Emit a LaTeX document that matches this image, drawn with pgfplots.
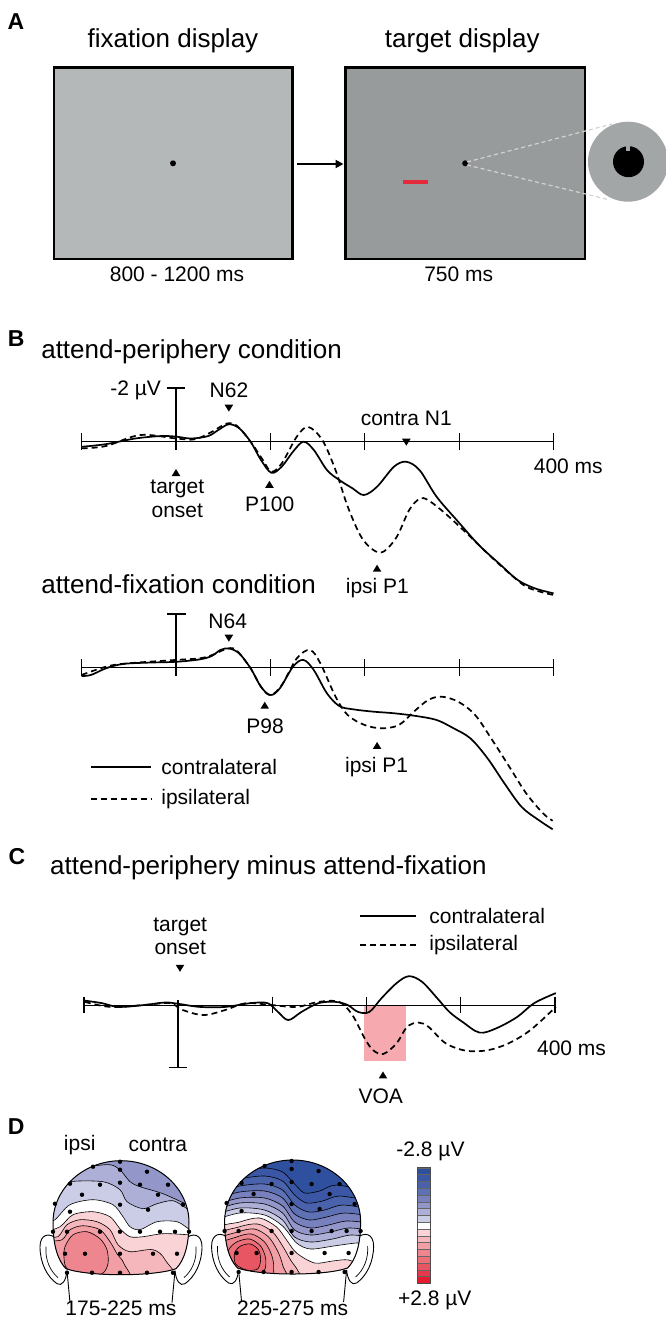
\documentclass[border=0pt]{standalone}
\usepackage{pgfplots}
\pgfplotsset{compat=1.18}
\usepackage{pgfplotstable}
\usepackage{fontspec}
\setmainfont{Liberation Sans}
\usetikzlibrary{arrows.meta}

\definecolor{boxA}{HTML}{B5B8B9}
\definecolor{boxB}{HTML}{989B9C}
\definecolor{eyeg}{HTML}{A3A6A7}
\definecolor{redbar}{HTML}{E42A3C}
\definecolor{voapink}{HTML}{F6AAB0}
\definecolor{cb1}{HTML}{2F4F9F}
\definecolor{cb2}{HTML}{3A56A4}
\definecolor{cb3}{HTML}{4A62AC}
\definecolor{cb4}{HTML}{5E71B4}
\definecolor{cb5}{HTML}{7880BD}
\definecolor{cb6}{HTML}{9296C9}
\definecolor{cb7}{HTML}{ADAFD6}
\definecolor{cb8}{HTML}{CBCCE5}
\definecolor{cw}{HTML}{FFFFFF}
\definecolor{cr8}{HTML}{F9D3D6}
\definecolor{cr7}{HTML}{F5B7BC}
\definecolor{cr6}{HTML}{F19EA5}
\definecolor{cr5}{HTML}{EE868F}
\definecolor{cr4}{HTML}{EB6E79}
\definecolor{cr3}{HTML}{E85563}
\definecolor{cr2}{HTML}{E6384A}
\definecolor{cr1}{HTML}{E41B2E}

\newcommand\ttl{\fontsize{26}{30}\selectfont}
\newcommand\lbl{\fontsize{21}{25}\selectfont}
\newcommand\pan{\fontsize{23}{26}\selectfont\bfseries}

\newcommand\tridown[2]{\fill (axis cs:#1,#2) -- ++(-4.3pt,7pt) -- ++(8.6pt,0pt) -- cycle;}
\newcommand\triup[2]{\fill (axis cs:#1,#2) -- ++(-4.3pt,-7pt) -- ++(8.6pt,0pt) -- cycle;}
\newcommand\erptick[1]{\draw[line width=1.3pt] (axis cs:#1,0) ++(0pt,8.3pt) -- ++(0pt,-16.6pt);}

\pgfplotstableread{
t v
-100 0.19
-74 0.09
-43 -0.12
-16 -0.21
0 -0.19
16 -0.12
34 -0.21
45 -0.44
56 -0.65
67 -0.50
79 0
90 0.68
101 1.16
112 0.93
124 0.37
135 0
146 0.31
160 1.06
173 1.43
187 1.74
199 1.99
213 1.68
231 0.93
244 0.75
258 1.06
276 2.05
299 2.99
321 3.86
344 4.60
362 5.16
380 5.47
400 5.66
}\bpc
\pgfplotstableread{
t v
-100 0.25
-74 0.16
-38 -0.25
0 -0.12
20 -0.09
38 -0.37
54 -0.68
65 -0.58
79 0
92 0.68
101 1.12
112 0.81
128 -0.19
140 -0.55
155 -0.06
169 1.06
182 2.43
196 3.54
209 4.04
220 4.10
234 3.54
247 2.55
258 2.13
267 2.18
285 2.67
308 3.42
330 4.17
353 4.91
371 5.41
389 5.63
400 5.72
}\bpi
\pgfplotstableread{
t v
-100 0.31
-90 0.27
-74 0.02
-56 -0.14
-29 -0.19
0 -0.22
25 -0.31
38 -0.44
47 -0.66
56 -0.72
67 -0.53
79 0.02
90 0.71
100 1.02
110 0.77
124 -0.04
135 -0.29
146 0.09
160 0.96
173 1.43
187 1.55
209 1.64
231 1.70
254 1.80
276 1.95
294 2.26
312 2.64
330 3.38
348 4.32
366 5.19
384 5.68
399 6.03
}\bfc
\pgfplotstableread{
t v
-100 0.27
-74 -0.04
-52 -0.16
0 -0.29
25 -0.35
38 -0.47
52 -0.68
63 -0.68
79 0.02
90 0.71
100 1.02
112 0.65
128 -0.35
142 -0.66
153 -0.16
169 1.08
182 1.77
200 2.14
218 2.26
236 2.14
252 1.64
267 1.21
281 1.08
299 1.27
317 1.77
335 2.70
353 3.69
371 4.69
389 5.44
399 5.71
}\bfi
\pgfplotstableread{
t v
-99 -0.07
-81 -0.03
-63 0.03
-36 0
-14 -0.04
0 -0.02
23 0.03
50 0.03
77 -0.03
95 -0.03
106 0.11
117 0.24
131 0.11
149 -0.03
167 -0.05
180 0
191 0.11
203 0.11
216 -0.11
232 -0.35
245 -0.46
259 -0.37
275 -0.11
288 0.11
302 0.27
320 0.44
338 0.37
360 0.19
378 -0.03
401 -0.19
}\cdc
\pgfplotstableread{
t v
-99 -0.05
-72 0.03
-36 0
-9 -0.03
5 0.08
27 0.16
50 0.08
72 -0.03
99 0
126 0.03
149 -0.05
171 -0.05
185 0.16
198 0.53
207 0.72
218 0.78
232 0.61
243 0.35
255 0.28
266 0.35
284 0.61
306 0.73
329 0.72
351 0.61
374 0.40
401 0.03
}\cdi

\pgfplotsset{erp/.style={hide axis, clip=false, scale only axis, enlargelimits=false, y dir=reverse, anchor=north west, xmin=-100, xmax=400}}
\tikzset{
  sol/.style={black, line width=1.7pt, smooth, tension=0.55},
  das/.style={black, line width=1.7pt, smooth, tension=0.55, dash pattern=on 6pt off 4pt},
}

\def\headpath{(0,-62) .. controls (0,-27.7) and (30.5,0) .. (68,0) .. controls (105.5,0) and (136,-27.7) .. (136,-62) .. controls (136,-85) and (131,-100) .. (123,-108) .. controls (100,-116) and (36,-116) .. (13,-108) .. controls (5,-100) and (0,-85) .. (0,-62) -- cycle}
\newcommand\ear{%
  \draw[fill=white, line width=0.9pt] (6,-80) .. controls (-4,-70) and (-13,-74) .. (-13,-86) .. controls (-13,-102) and (-6,-116) .. (4,-123) .. controls (9,-126) and (13,-120) .. (14,-110);
  \draw[line width=0.7pt] (-7,-86) .. controls (-8,-99) and (-3,-110) .. (5,-117);
  \draw[line width=0.9pt] (14,-110) -- (17,-142);}
\newcommand\band[2]{\fill[#1] (-10,-130) -- plot[smooth] coordinates {#2} -- (146,-130) -- cycle;
  \draw[line width=0.6pt] plot[smooth] coordinates {#2};}
\newcommand\loopband[2]{\fill[#1] plot[smooth cycle] coordinates {#2};
  \draw[line width=0.6pt] plot[smooth cycle] coordinates {#2};}
\newcommand\electrodes{\foreach \p in {(67,-1),(40,-6),(67,-9),(94,-11),(17,-23),(47,-24),(67,-22),(87,-24),(115,-24),(29,-34),(105,-34),(2,-43),(17,-51),(67,-44),(95,-49),(130,-44),(0,-71),(14,-71),(47,-71),(67,-71),(87,-71),(107,-71),(122,-71),(136,-71),(12,-93),(32,-93),(67,-93),(100,-93),(124,-93),(14,-112),(39,-112),(67,-112),(94,-112),(120,-112)}{\fill \p circle (2.2);}}

\begin{document}
\begin{tikzpicture}[x=1pt,y=1pt]
\useasboundingbox (0,0) rectangle (665,-1321);

% ---------------- Panel A
\node[font=\pan] at (16,-21.7) {A};
\node[font=\ttl] at (173,-40.7) {fixation display};
\node[font=\ttl] at (462.3,-40.7) {target display};
\draw[line width=2.5pt, fill=boxA] (53.9,-67.7) rectangle (292.6,-259);
\draw[line width=2.5pt, fill=boxB] (345.6,-67.7) rectangle (585.2,-259);
\fill (173,-163.3) circle (3);
\fill (465.2,-163.3) circle (3);
\draw[line width=2pt, -{Triangle[length=8pt,width=8pt]}] (296.9,-164) -- (343.5,-164);
\fill[redbar] (402.9,-179.7) rectangle (427.5,-183.7);
\draw[gray!35, line width=1.2pt, dash pattern=on 4pt off 3pt] (467,-162) -- (612,-124);
\draw[gray!35, line width=1.2pt, dash pattern=on 4pt off 3pt] (467,-165) -- (610,-200);
\fill[eyeg] (628,-161.7) circle (40);
\fill[black] (628.5,-161.7) circle (15.5);
\fill[eyeg] (626.2,-145) rectangle (629.8,-151);
\node[font=\lbl] at (177,-274) {800 - 1200 ms};
\node[font=\lbl] at (458.7,-274) {750 ms};

% ---------------- Panel B
\node[font=\pan] at (16.1,-338.3) {B};
\node[font=\ttl, anchor=west, inner sep=0] at (41.1,-351.7) {attend-periphery condition};
\begin{axis}[erp, at={(81.6pt,-374.7pt)}, width=472pt, height=241.2pt, ymin=-2.5, ymax=6.5]
  \draw[line width=1pt] (axis cs:-100,0) -- (axis cs:400,0);
  \erptick{-100}\erptick{100}\erptick{200}\erptick{300}\erptick{400}
  \draw[line width=1.3pt] (axis cs:0,-2) -- (axis cs:0,0) -- ++(0pt,-8.3pt);
  \draw[line width=1.3pt] (axis cs:0,-2) ++(-9.2pt,0pt) -- ++(18.4pt,0pt);
  \addplot[sol] table[x=t,y=v] {\bpc};
  \addplot[das] table[x=t,y=v] {\bpi};
  \tridown{56}{-1.12}
  \tridown{244}{0.15}
  \triup{0}{1.02}
  \triup{99}{1.46}
  \triup{213}{4.59}
\end{axis}
\node[font=\lbl, anchor=east, inner sep=0] at (161.2,-390) {-2 µV};
\node[font=\lbl] at (229,-390.7) {N62};
\node[font=\lbl] at (406.3,-418.3) {contra N1};
\node[font=\lbl] at (568.3,-466.7) {400 ms};
\node[font=\lbl] at (177.3,-489.3) {target};
\node[font=\lbl] at (177.3,-510.7) {onset};
\node[font=\lbl] at (269.7,-504) {P100};
\node[font=\lbl] at (377.4,-588.3) {ipsi P1};

\node[font=\ttl, anchor=west, inner sep=0] at (41.1,-584) {attend-fixation condition};
\begin{axis}[erp, at={(81.6pt,-600.7pt)}, width=472pt, height=241.2pt, ymin=-2.5, ymax=6.5]
  \draw[line width=1pt] (axis cs:-100,0) -- (axis cs:400,0);
  \erptick{-100}\erptick{100}\erptick{200}\erptick{300}\erptick{400}
  \draw[line width=1.3pt] (axis cs:0,-2) -- (axis cs:0,0) -- ++(0pt,-8.3pt);
  \draw[line width=1.3pt] (axis cs:0,-2) ++(-9.5pt,0pt) -- ++(19pt,0pt);
  \addplot[sol] table[x=t,y=v] {\bfc};
  \addplot[das] table[x=t,y=v] {\bfi};
  \tridown{56}{-0.97}
  \triup{94}{1.27}
  \triup{213}{2.77}
\end{axis}
\node[font=\lbl] at (227.7,-621.7) {N64};
\node[font=\lbl] at (265,-726) {P98};
\node[font=\lbl] at (376.6,-766.7) {ipsi P1};
\draw[line width=1.7pt] (91.2,-766.7) -- (151.4,-766.7);
\draw[line width=1.7pt, dash pattern=on 6pt off 4pt] (91.2,-799) -- (151.4,-799);
\node[font=\lbl, anchor=west, inner sep=0] at (161.2,-766.7) {contralateral};
\node[font=\lbl, anchor=west, inner sep=0] at (161.2,-799) {ipsilateral};

% ---------------- Panel C
\node[font=\pan] at (17,-856.7) {C};
\node[font=\ttl, anchor=west, inner sep=0] at (50,-867.3) {attend-periphery minus attend-fixation};
\begin{axis}[erp, at={(83.9pt,-942.33pt)}, width=471pt, height=137.9pt, ymin=-1, ymax=1.2]
  \fill[voapink] (axis cs:197,0) rectangle (axis cs:242,0.888);
  \draw[line width=1pt] (axis cs:-100,0) -- (axis cs:400,0);
  \erptick{-100}\erptick{100}\erptick{200}\erptick{300}\erptick{400}
  \draw[line width=1.3pt] (axis cs:0,0) ++(0pt,5pt) -- (axis cs:0,1);
  \draw[line width=1.3pt] (axis cs:0,1) ++(-9pt,0pt) -- ++(18pt,0pt);
  \addplot[sol] table[x=t,y=v] {\cdc};
  \addplot[das] table[x=t,y=v] {\cdi};
  \tridown{2}{-0.53}
  \triup{217.5}{1.06}
\end{axis}
\node[font=\lbl] at (180.2,-926.7) {target};
\node[font=\lbl] at (180.2,-948.3) {onset};
\node[font=\lbl] at (571.5,-1048.3) {400 ms};
\node[font=\lbl] at (380.8,-1096.7) {VOA};
\draw[line width=1.7pt] (359.6,-916) -- (415.6,-916);
\draw[line width=1.7pt, dash pattern=on 6pt off 4pt] (359.6,-945) -- (415.6,-945);
\node[font=\lbl, anchor=west, inner sep=0] at (429.2,-916) {contralateral};
\node[font=\lbl, anchor=west, inner sep=0] at (429.2,-945) {ipsilateral};

% ---------------- Panel D
\node[font=\pan] at (16.1,-1126.7) {D};
\node[font=\lbl] at (79.7,-1145) {ipsi};
\node[font=\lbl] at (157.8,-1145) {contra};

\begin{scope}[shift={(53,-1160.7)}]
  \ear
  \begin{scope}[shift={(136,0)}, xscale=-1] \ear \end{scope}
  \begin{scope}
    \clip \headpath;
    \fill[cb6] (-10,10) rectangle (146,-130);
    \band{cb7}{(-10,-2) (20,-2) (38,-5) (57,-4) (67,-9) (77,-21) (87,-26) (110,-33) (134,-44) (146,-52)}
    \band{cb8}{(-10,-32) (3,-29) (17,-21) (50,-21) (67,-29) (74,-41) (90,-48) (104,-43) (120,-40) (134,-48) (146,-56)}
    \band{cw}{(-10,-64) (2,-59) (17,-44) (40,-39) (60,-44) (70,-56) (77,-66) (87,-69) (104,-61) (124,-61) (137,-69) (146,-72)}
    \band{cr8}{(-10,-72) (7,-66) (20,-54) (40,-51) (57,-56) (67,-68) (77,-76) (90,-76) (110,-73) (134,-74) (146,-76)}
    \loopband{cr7}{(-10,-80) (5,-76) (14,-64) (27,-59) (44,-61) (57,-69) (65,-84) (77,-91) (100,-89) (112,-99) (118,-125) (-10,-125)}
    \loopband{cr6}{(-10,-85) (9,-79) (17,-69) (30,-65) (47,-69) (57,-81) (64,-93) (71,-103) (75,-125) (-10,-125)}
    \loopband{cr5}{(12,-86) (20,-74) (34,-71) (47,-78) (54,-89) (55,-103) (49,-113) (30,-116) (14,-108) (11,-97)}
  \end{scope}
  \draw[line width=1pt] \headpath;
  \electrodes
\end{scope}

\begin{scope}[shift={(224.6,-1160)}]
  \ear
  \begin{scope}[shift={(136,0)}, xscale=-1] \ear \end{scope}
  \begin{scope}
    \clip \headpath;
    \fill[cb1] (-10,10) rectangle (146,-130);
    \band{cb2}{(-10,-20) (15,-12) (40,-8) (58,-12) (70,-24) (80,-33) (95,-31) (112,-25) (146,-32)}
    \band{cb3}{(-10,-27) (15,-19) (40,-16) (58,-21) (70,-35) (82,-43) (98,-41) (115,-36) (146,-41)}
    \band{cb4}{(-10,-33) (15,-26) (40,-24) (58,-30) (70,-45) (84,-52) (100,-50) (118,-45) (146,-49)}
    \band{cb5}{(-10,-39) (15,-32) (40,-31) (58,-38) (70,-54) (85,-60) (102,-57) (120,-53) (146,-56)}
    \band{cb6}{(-10,-45) (15,-38) (40,-38) (58,-46) (70,-62) (86,-68) (104,-65) (122,-61) (146,-63)}
    \band{cb7}{(-10,-50) (15,-43) (40,-44) (58,-53) (70,-70) (86,-75) (106,-72) (124,-68) (146,-70)}
    \band{cb8}{(-10,-55) (15,-48) (40,-50) (58,-60) (70,-77) (86,-82) (108,-79) (126,-75) (146,-77)}
    \band{cw}{(-10,-60) (15,-53) (40,-55) (58,-66) (72,-83) (86,-89) (109,-86) (132,-83) (146,-84)}
    \loopband{cr8}{(-10,-72) (15,-62) (35,-58) (52,-67) (62,-80) (72,-93) (90,-103) (108,-101) (124,-100) (140,-108) (150,-125) (-10,-125)}
    \loopband{cr7}{(-10,-78) (14,-67) (33,-64) (48,-72) (58,-86) (66,-100) (74,-112) (76,-125) (-10,-125)}
    \loopband{cr6}{(-10,-83) (13,-72) (30,-69) (44,-77) (53,-91) (58,-105) (60,-125) (-10,-125)}
    \loopband{cr5}{(-10,-88) (12,-77) (27,-74) (40,-82) (47,-95) (49,-108) (44,-125) (-10,-125)}
    \loopband{cr4}{(4,-90) (12,-82) (25,-79) (36,-86) (41,-98) (40,-110) (30,-116) (12,-113) (4,-102)}
    \loopband{cr3}{(10,-93) (16,-86) (26,-84) (34,-90) (36,-100) (33,-109) (22,-110) (11,-104)}
  \end{scope}
  \draw[line width=1pt] \headpath;
  \electrodes
\end{scope}

\node[font=\lbl] at (120.9,-1308.3) {175-225 ms};
\node[font=\lbl] at (292.6,-1308.3) {225-275 ms};

\foreach \c [count=\i from 0] in {cb1,cb2,cb3,cb4,cb5,cb6,cb7,cb8,cw,cr8,cr7,cr6,cr5,cr4,cr3,cr2,cr1}{
  \fill[\c] (416.9,{-1167.7-\i*6.8}) rectangle ++(13.6,-6.8);
  \draw[black!60, line width=0.3pt] (416.9,{-1167.7-\i*6.8}) -- ++(13.6,0);
}
\draw[black!70, line width=0.6pt] (416.9,-1167.7) rectangle (430.5,-1283.3);
\node[font=\lbl] at (430.5,-1151.7) {-2.8 µV};
\node[font=\lbl] at (434.7,-1300) {+2.8 µV};
\end{tikzpicture}
\end{document}
